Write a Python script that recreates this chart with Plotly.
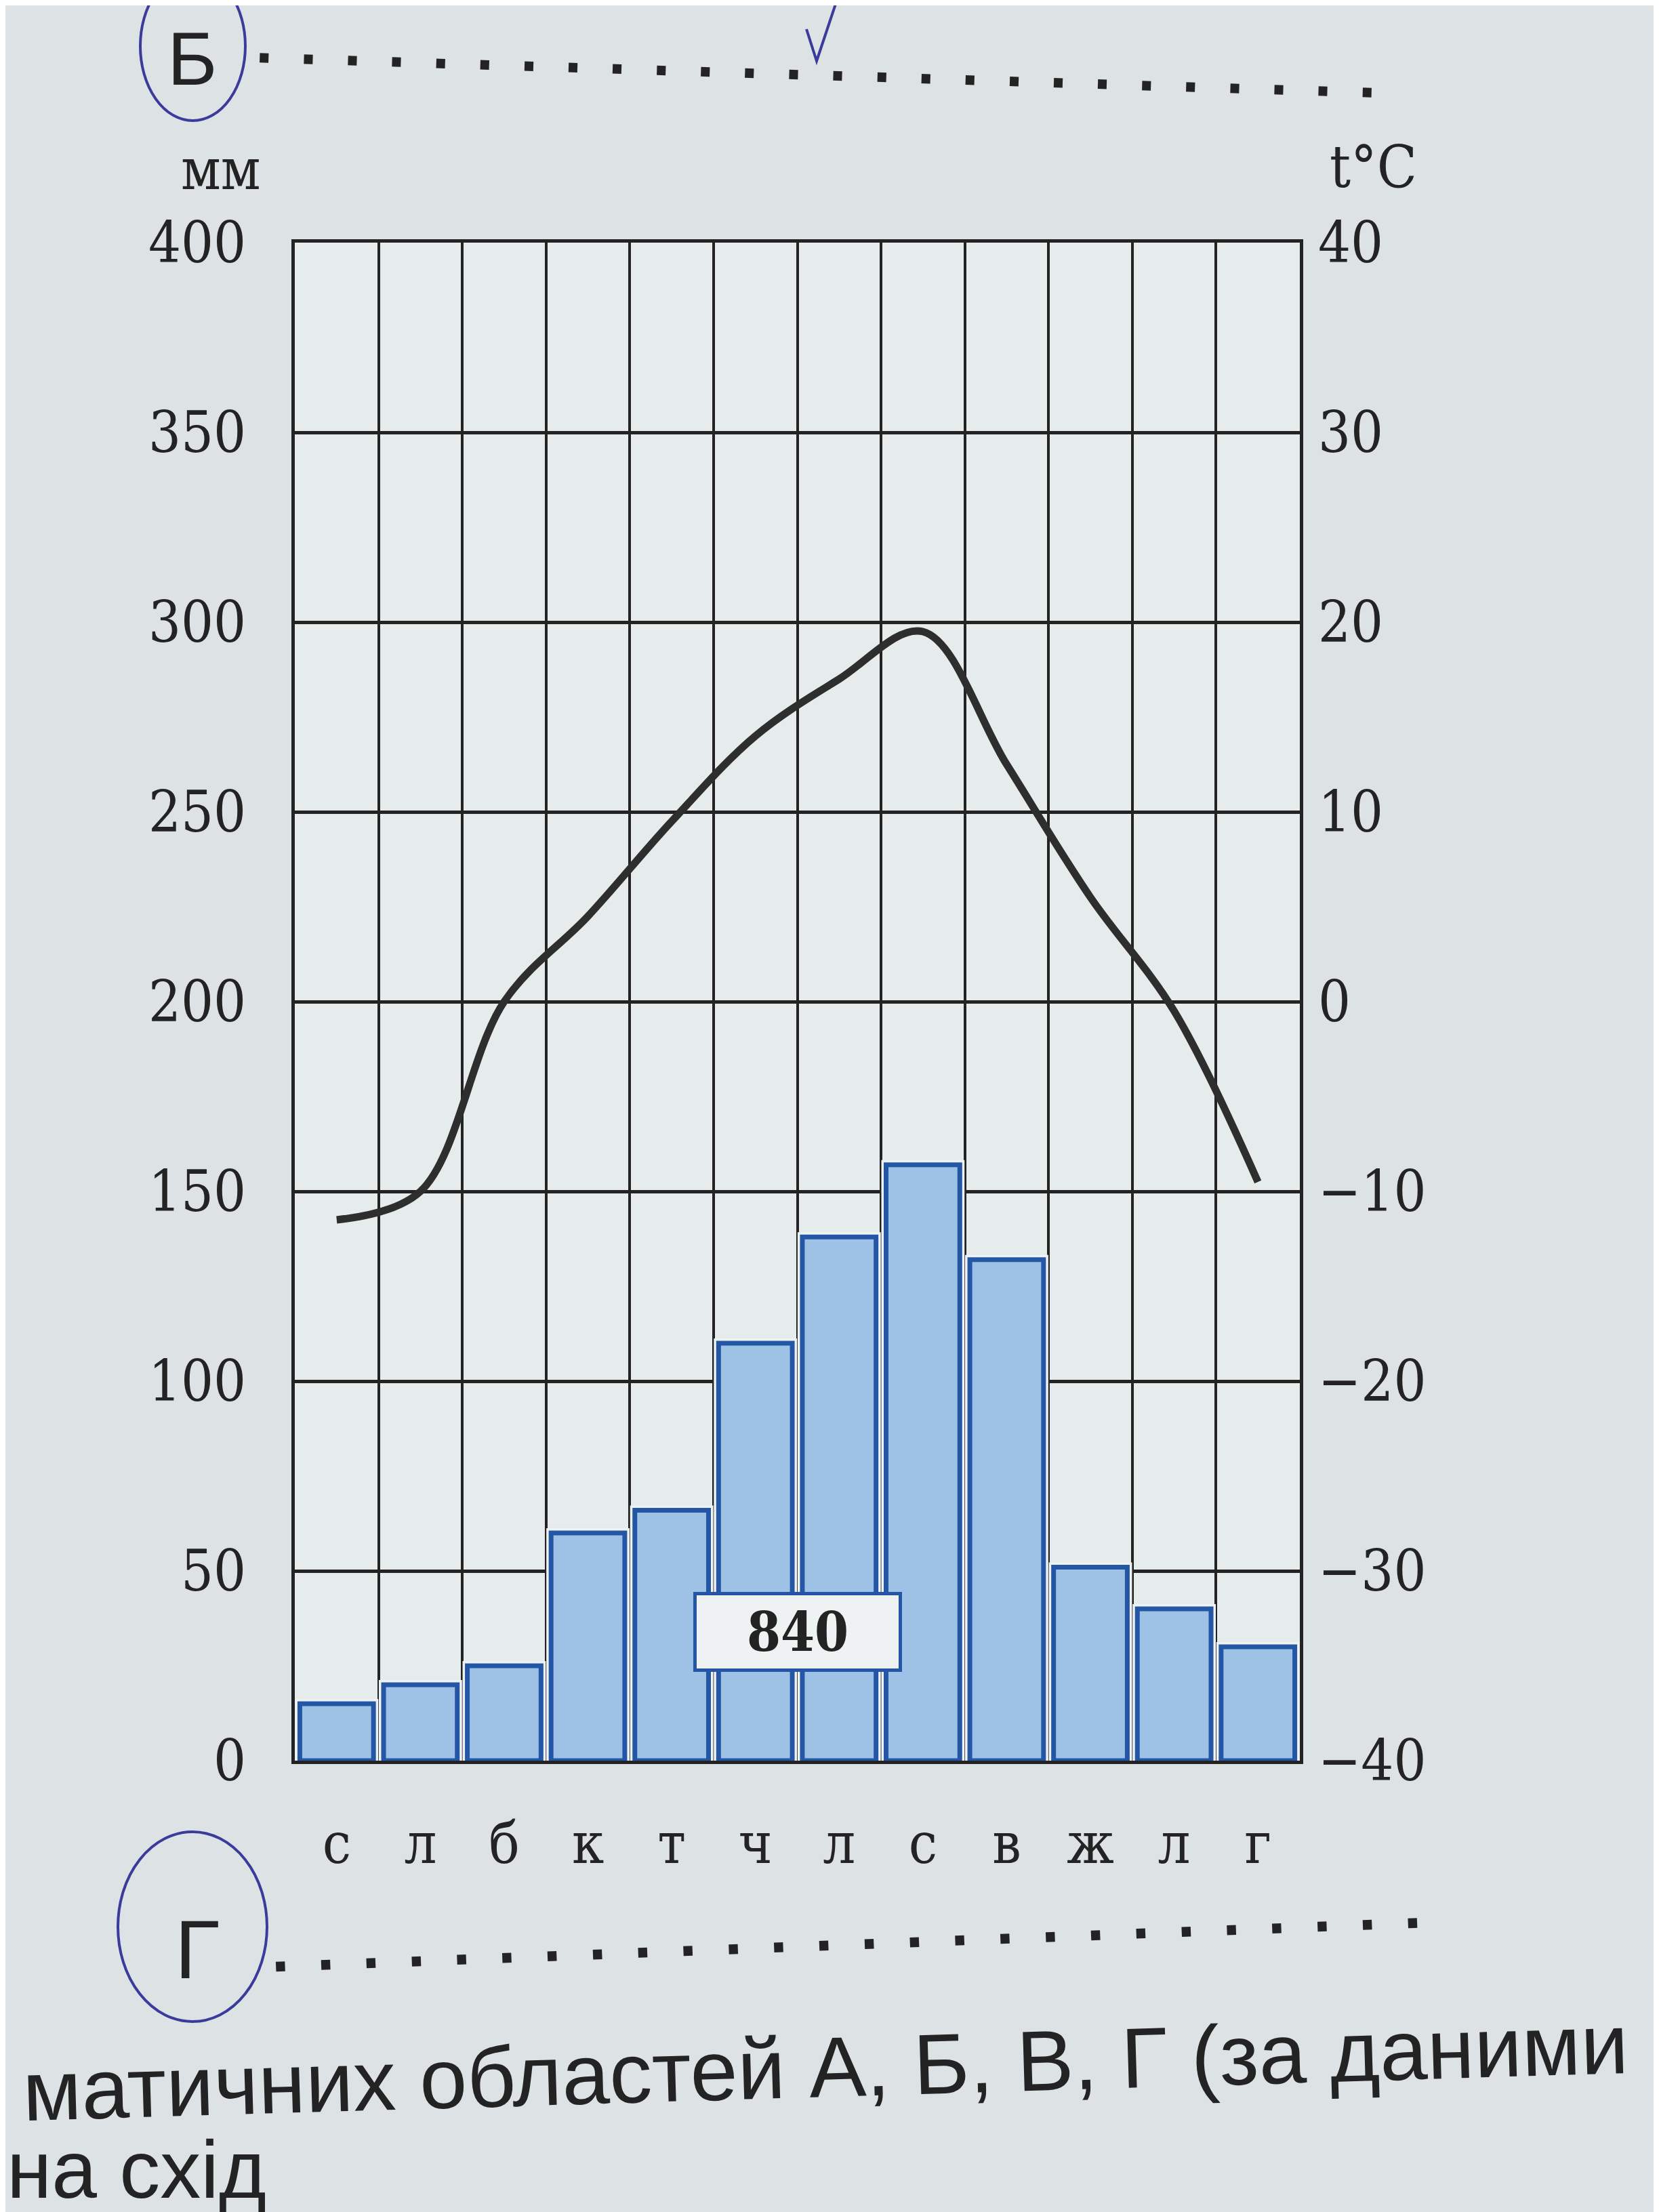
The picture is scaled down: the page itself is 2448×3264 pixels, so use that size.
import plotly.graph_objects as go

# ---- data ----
months = ["с", "л", "б", "к", "т", "ч", "л", "с", "в", "ж", "л", "г"]
precip_mm = [15, 20, 25, 60, 66, 110, 138, 157, 132, 51, 40, 30]
temp_c = [-11.5, -10, 0, 4.5, 9.5, 14, 17, 19.5, 12.5, 5.5, -0.5, -9.5]
annual_total = "840"
left_ticks = [0, 50, 100, 150, 200, 250, 300, 350, 400]
right_ticks = [-40, -30, -20, -10, 0, 10, 20, 30, 40]

# ---- page geometry (pixels) ----
W, H = 2448, 3264
L, R, T, B = 427, 1910, 350, 2590
PW, PH = R - L, B - T

def px(x):
    return (x - L) / PW

def py(y):
    return (B - y) / PH

xpos = list(range(1, len(months) + 1))

SERIF = "DejaVu Serif Condensed, Liberation Serif, serif"
SANS = "Liberation Sans, Arial, sans-serif"
INK = "#232323"
PAPER = "#dde3e4"
BAR_W = 0.88

fig = go.Figure()
# thin light halo around each bar (as printed)
fig.add_trace(go.Bar(
    x=xpos, y=precip_mm, yaxis="y",
    marker=dict(color="#eef2f3", line=dict(color="#eef2f3", width=14)),
    width=BAR_W, showlegend=False, hoverinfo="skip",
))
fig.add_trace(go.Bar(
    x=xpos, y=precip_mm, yaxis="y",
    marker=dict(color="#9dc2e6", line=dict(color="#2456a6", width=7)),
    width=BAR_W, showlegend=False,
))
fig.add_trace(go.Scatter(
    x=xpos, y=temp_c, yaxis="y2", mode="lines",
    line=dict(color="#2e2e2e", width=11, shape="spline", smoothing=1.0),
    showlegend=False,
))

def note(text, x, y, size, family=SERIF, xanchor="center", yanchor="middle", angle=0):
    return dict(text=text, x=px(x), y=py(y), xref="paper", yref="paper",
                xanchor=xanchor, yanchor=yanchor, showarrow=False, textangle=angle,
                font=dict(family=family, size=size, color=INK))

dots = "\u2002".join(["<b>.</b>"] * 26)
DOTFONT = "DejaVu Sans, sans-serif"
annotations = [
    note("мм", 318, 242, 84),
    note("t°C", 2018, 238, 86),
    dict(text="<b>" + annual_total + "</b>", x=6.5, y=34, xref="x", yref="y",
         xanchor="center", yanchor="middle",
         showarrow=False, width=290, height=100, borderpad=4,
         bgcolor="#eff2f3", bordercolor="#2456a6", borderwidth=5,
         font=dict(family=SERIF, size=80, color=INK)),
    note("Б", 276, 78, 112, family=SANS),
    note(dots, 1196, 84, 74, family=DOTFONT, angle=1.8),
    note("Г", 283, 2869, 122, family=SANS),
    note(dots, 1240, 2842, 76, family=DOTFONT, angle=-2.2),
    note("матичних областей А, Б, В, Г (за даними", 1210, 3042, 126,
         family=SANS, angle=-1.7),
    note("на схід", 0, 3262, 120, family=SANS, xanchor="left", yanchor="bottom"),
]

pen = "#3b3b9c"
shapes = [
    dict(type="circle", xref="paper", yref="paper",
         x0=px(199), x1=px(354), y0=py(-50), y1=py(170),
         line=dict(color=pen, width=4)),
    dict(type="circle", xref="paper", yref="paper",
         x0=px(166), x1=px(386), y0=py(2695), y1=py(2975),
         line=dict(color=pen, width=4)),
    dict(type="path", xref="paper", yref="paper",
         path=f"M {px(1182)} {py(35)} L {px(1197)} {py(82)} L {px(1226)} {py(-5)}",
         line=dict(color=pen, width=4)),
]

fig.update_layout(
    width=W, height=H, autosize=False,
    margin=dict(l=L, r=W - R, t=T, b=H - B),
    paper_bgcolor=PAPER, plot_bgcolor="#e6ebeb",
    barmode="overlay",
    xaxis=dict(
        range=[0.5, len(months) + 0.5], tickmode="array", tickvals=xpos, ticktext=months,
        showgrid=False, zeroline=False, showline=True, mirror=True,
        linecolor=INK, linewidth=5, ticks="", ticklabelstandoff=45,
        tickfont=dict(family=SERIF, size=84, color=INK),
        minor=dict(tickmode="array", tickvals=[i + 0.5 for i in range(len(months) + 1)],
                   showgrid=True, gridcolor=INK, gridwidth=4, ticks=""),
    ),
    yaxis=dict(
        range=[0, 400], tickmode="array", tickvals=left_ticks,
        showgrid=True, gridcolor=INK, gridwidth=5, zeroline=False,
        showline=True, mirror=True, linecolor=INK, linewidth=5, ticks="",
        ticklabelstandoff=50, tickfont=dict(family=SERIF, size=84, color=INK),
    ),
    yaxis2=dict(
        range=[-40, 40], tickmode="array", tickvals=right_ticks,
        overlaying="y", side="right", showgrid=False, zeroline=False,
        showline=False, ticks="", ticklabelstandoff=26,
        tickfont=dict(family=SERIF, size=84, color=INK),
    ),
    annotations=annotations,
    shapes=shapes,
)

fig.write_html("out.html")
